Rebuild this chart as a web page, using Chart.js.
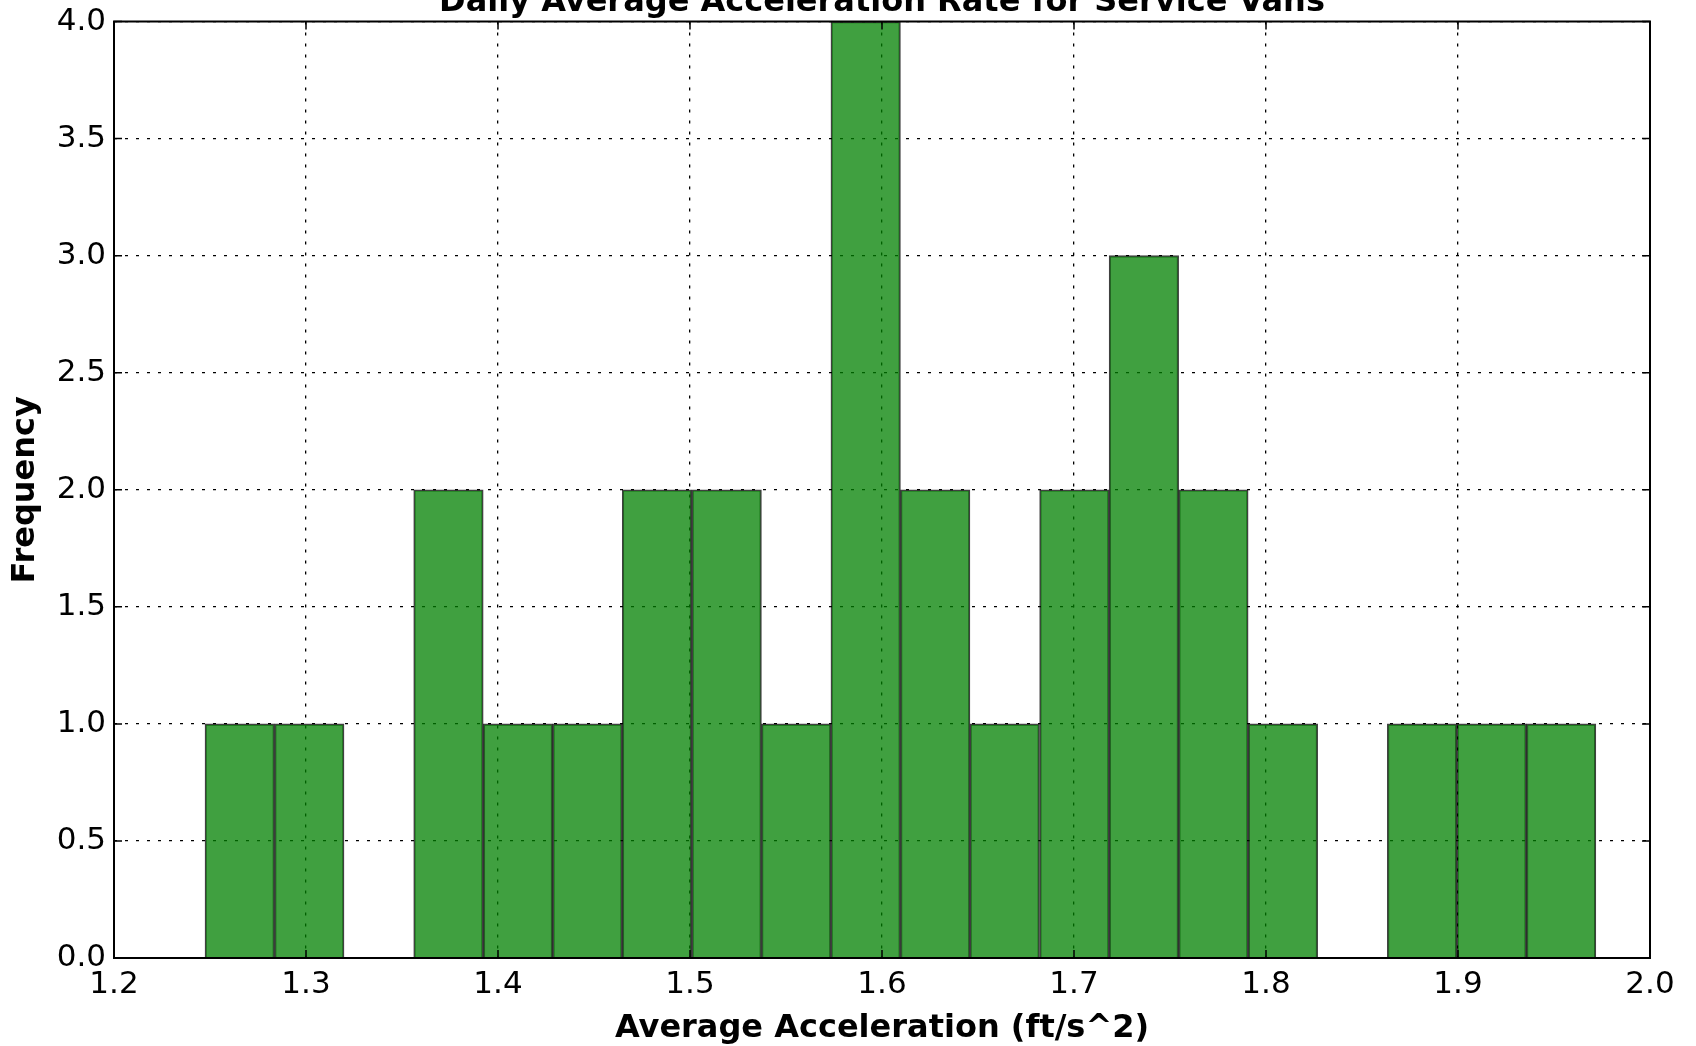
<!DOCTYPE html>
<html>
<head>
<meta charset="utf-8">
<script src="https://cdn.jsdelivr.net/npm/chart.js@4.4.0/dist/chart.umd.min.js"></script>
<style>
  html, body { margin: 0; padding: 0; background: #fff; }
</style>
</head>
<body>
<canvas id="hist" width="1696" height="1046"></canvas>
<script>
// histogram bins (centres) and counts
const binCenters = [1.2655, 1.3017, 1.3380, 1.3742, 1.4104, 1.4466, 1.4828, 1.5191, 1.5553, 1.5915,
                    1.6277, 1.6639, 1.7002, 1.7364, 1.7726, 1.8088, 1.8450, 1.8813, 1.9175, 1.9537]
const counts = [1, 1, 0, 2, 1, 1, 2, 2, 1, 4, 2, 1, 2, 3, 2, 1, 0, 1, 1, 1]
const xTickValues = [1.2, 1.3, 1.4, 1.5, 1.6, 1.7, 1.8, 1.9, 2.0]
const yTickValues = [0, 0.5, 1, 1.5, 2, 2.5, 3, 3.5, 4]

const chartTitle = 'Daily Average Acceleration Rate for Service Vans'
const xLabel = 'Average Acceleration (ft/s^2)'
const yLabel = 'Frequency'

Chart.defaults.font.family = 'DejaVu Sans'
Chart.defaults.color = '#000'

// box round the plot, inward tick marks and the (clipped) title
const framePlugin = {
  id: 'frame',
  afterDraw(chart) {
    const ctx = chart.ctx
    const a = chart.chartArea
    const xs = chart.scales.x, ys = chart.scales.y
    ctx.save()
    ctx.strokeStyle = '#000'
    ctx.lineWidth = 1.5
    ctx.beginPath()
    xTickValues.forEach(v => {
      const px = xs.getPixelForValue(v)
      ctx.moveTo(px, a.bottom); ctx.lineTo(px, a.bottom - 8)
      ctx.moveTo(px, a.top); ctx.lineTo(px, a.top + 8)
    })
    yTickValues.forEach(v => {
      const py = ys.getPixelForValue(v)
      ctx.moveTo(a.left, py); ctx.lineTo(a.left + 8, py)
      ctx.moveTo(a.right, py); ctx.lineTo(a.right - 8, py)
    })
    ctx.stroke()
    ctx.lineWidth = 2
    ctx.strokeRect(a.left, a.top, a.right - a.left, a.bottom - a.top)

    ctx.fillStyle = '#000'
    ctx.font = 'bold 32px "DejaVu Sans"'
    ctx.textAlign = 'center'
    ctx.textBaseline = 'alphabetic'
    ctx.fillText(chartTitle, (a.left + a.right) / 2, 11)
    ctx.restore()
  }
}

new Chart(document.getElementById('hist'), {
  type: 'bar',
  data: {
    datasets: [{
      data: binCenters.map((c, i) => ({x: c, y: counts[i]})),
      backgroundColor: 'rgba(0,128,0,0.75)',
      borderColor: 'rgba(0,0,0,0.75)',
      borderWidth: 1.5,
      borderSkipped: 'start',
      barPercentage: 1.0,
      categoryPercentage: 1.0
    }]
  },
  options: {
    responsive: false,
    animation: false,
    layout: { padding: { top: 21.5, right: 46, left: 0, bottom: 0 } },
    plugins: {
      legend: { display: false },
      tooltip: { enabled: false }
    },
    scales: {
      x: {
        type: 'linear',
        min: 1.2,
        max: 2.0,
        offset: false,
        z: 1,
        afterBuildTicks(scale) { scale.ticks = xTickValues.map(v => ({value: v})) },
        afterFit(scale) { scale.height = 88; scale.paddingLeft = 0; scale.paddingRight = 0 },
        ticks: {
          font: { size: 31 },
          padding: 8,
          maxRotation: 0,
          callback: v => v.toFixed(1)
        },
        grid: {
          offset: false,
          color: '#000',
          lineWidth: 1.3,
          drawTicks: false
        },
        border: { display: false, dash: [3, 8] },
        title: {
          display: true,
          text: xLabel,
          font: { size: 32, weight: 'bold' },
          padding: { top: 0, bottom: -2 }
        }
      },
      y: {
        min: 0,
        max: 4,
        z: 1,
        afterBuildTicks(scale) { scale.ticks = yTickValues.map(v => ({value: v})) },
        afterFit(scale) { scale.width = 114; scale.paddingTop = 0; scale.paddingBottom = 0 },
        ticks: {
          font: { size: 31 },
          padding: 8,
          callback: v => v.toFixed(1)
        },
        grid: {
          color: '#000',
          lineWidth: 1.3,
          drawTicks: false
        },
        border: { display: false, dash: [3, 8] },
        title: {
          display: true,
          text: yLabel,
          font: { size: 32, weight: 'bold' },
          padding: { top: 6, bottom: 0 }
        }
      }
    }
  },
  plugins: [framePlugin]
})
</script>
</body>
</html>
